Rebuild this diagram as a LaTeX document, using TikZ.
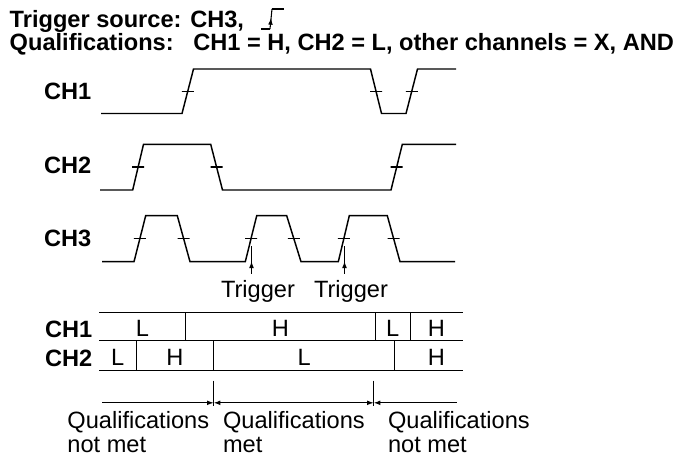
\documentclass[tikz,border=0pt]{standalone}
\usepackage{fontspec}
\setmainfont{Liberation Sans}
\usetikzlibrary{arrows.meta,decorations.markings}
\tikzset{
Texte/.style={
 font=\fontsize{17.7pt}{18pt}\selectfont,
 inner sep=0pt
 },
Canal/.style={
 font=\fontsize{17.7pt}{18pt}\selectfont\bfseries,
 inner sep=0pt,
 anchor=east
 },
Tiret/.style={
 draw=black,
 rectangle,
 minimum width=9pt,
 minimum height=0pt,
 inner sep=0pt
 },
HFleche/.style={
 draw=black,
 postaction={decorate},
 decoration={markings,mark=at position #1 with {\arrow{Latex[length=5pt,width=3.6pt]}}}
 },
HFleche/.default={0.45},
DFleche/.style={
 draw=black,
 -{Latex[length=5pt,width=3.6pt]}
 },
GFleche/.style={
 draw=black,
 {Latex[length=5pt,width=3.6pt]}-
 },
GDFleche/.style={
 draw=black,
 {Latex[length=5pt,width=3.6pt]}-{Latex[length=5pt,width=3.6pt]}
 }
}
\begin{document}
\begin{tikzpicture}[line width=1.1pt,x=0.75pt,y=-0.75pt]
\useasboundingbox (0,0) rectangle (680,457);
% titre
\node[Canal,anchor=base west] (src) at (9,27) {Trigger source: CH3,};
\node[Canal,anchor=base west] (qual) at (9,50) {Qualifications:\ \ \ CH1 = H, CH2 = L, other channels = X, AND};
\draw[line width=0.8pt] (261,29) -- (270,29);
\draw[HFleche=0.55,line width=0.8pt] (270,29) -- (272,9);
\draw[line width=0.8pt] (272,9) -- (284,9);
% signaux
\node[Canal] (ch1) at (92,91) {CH1};
\node[Canal] (ch2) at (92,165.5) {CH2};
\node[Canal] (ch3) at (92,238.5) {CH3};
\draw (101,113.5) -- (182,113.5) -- node[Tiret] {} (193.5,69) -- (370.5,69) -- node[Tiret] {} (381.5,113.5)
 -- (406,113.5) -- node[Tiret] {} (417.5,69) -- (456,69);
\draw (100,190) -- (132.7,190) -- node[Tiret] {} (143.5,144.3) -- (210.7,144.3) -- node[Tiret] {} (222.5,190)
 -- (391,190) -- node[Tiret] {} (402.3,144.3) -- (456,144.3);
\draw (102,261.7) -- (134,261.7) -- node[Tiret] {} (145.7,215.7) -- (177.3,215.7) -- node[Tiret] {} (190,261.7)
 -- (245.3,261.7) -- node[Tiret] {} (256.7,215.7) -- (286.7,215.7) -- node[Tiret] {} (301,261.7)
 -- (338.3,261.7) -- node[Tiret] {} (349.3,215.7) -- (387.3,215.7) -- node[Tiret] {} (400,261.7) -- (455,261.7);
% declenchements
\coordinate (t1) at (251.5,246);
\coordinate (t2) at (344.5,246);
\node[Texte,inner sep=4.5pt,anchor=base] (trig1) at (258,297.7) {Trigger};
\node[Texte,inner sep=4.5pt,anchor=base] (trig2) at (351,297.7) {Trigger};
\draw[HFleche,line width=0.8pt] (t1 |- trig1.north) -- (t1);
\draw[HFleche,line width=0.8pt] (t2 |- trig2.north) -- (t2);
% tableau
\draw (99,312.7) -- (462.7,312.7);
\draw (99,340.7) -- (462.7,340.7);
\draw (99,370.7) -- (462.7,370.7);
\draw (185.7,312.7) -- (185.7,340.7);
\draw (375.3,312.7) -- (375.3,340.7);
\draw (410.3,312.7) -- (410.3,340.7);
\draw (136.3,340.7) -- (136.3,370.7);
\draw (213.7,340.7) -- (213.7,370.7);
\draw (394.7,340.7) -- (394.7,370.7);
\node[Canal] (r1) at (93,329) {CH1};
\node[Canal] (r2) at (93,358) {CH2};
\node[Texte] (r1a) at (142.4,328.7) {L};
\node[Texte] (r1b) at (280.5,328.7) {H};
\node[Texte] (r1c) at (392.8,328.7) {L};
\node[Texte] (r1d) at (436.5,328.7) {H};
\node[Texte] (r2a) at (117.7,357.3) {L};
\node[Texte] (r2b) at (175,357.3) {H};
\node[Texte] (r2c) at (304.2,357.3) {L};
\node[Texte] (r2d) at (436.5,357.3) {H};
% conditions
\coordinate (a0) at (102.3,402.8);
\coordinate (m1) at (213.7,402.8);
\coordinate (m2) at (373.7,402.8);
\coordinate (a3) at (456.7,402.8);
\draw[line width=0.8pt] (213.7,380.5) -- (213.7,406);
\draw[line width=0.8pt] (373.7,380.5) -- (373.7,406);
\draw[DFleche,line width=0.8pt] (a0) -- (m1);
\draw[GDFleche,line width=0.8pt] (m1) -- (m2);
\draw[GFleche,line width=0.8pt] (m2) -- (a3);
\node[Texte,align=left,anchor=north west] (nm1) at (66.7,411) {Qualifications\\not met};
\node[Texte,align=left,anchor=north west] (ok) at (222.3,411) {Qualifications\\met};
\node[Texte,align=left,anchor=north west] (nm2) at (387.3,411) {Qualifications\\not met};
\end{tikzpicture}
\end{document}
